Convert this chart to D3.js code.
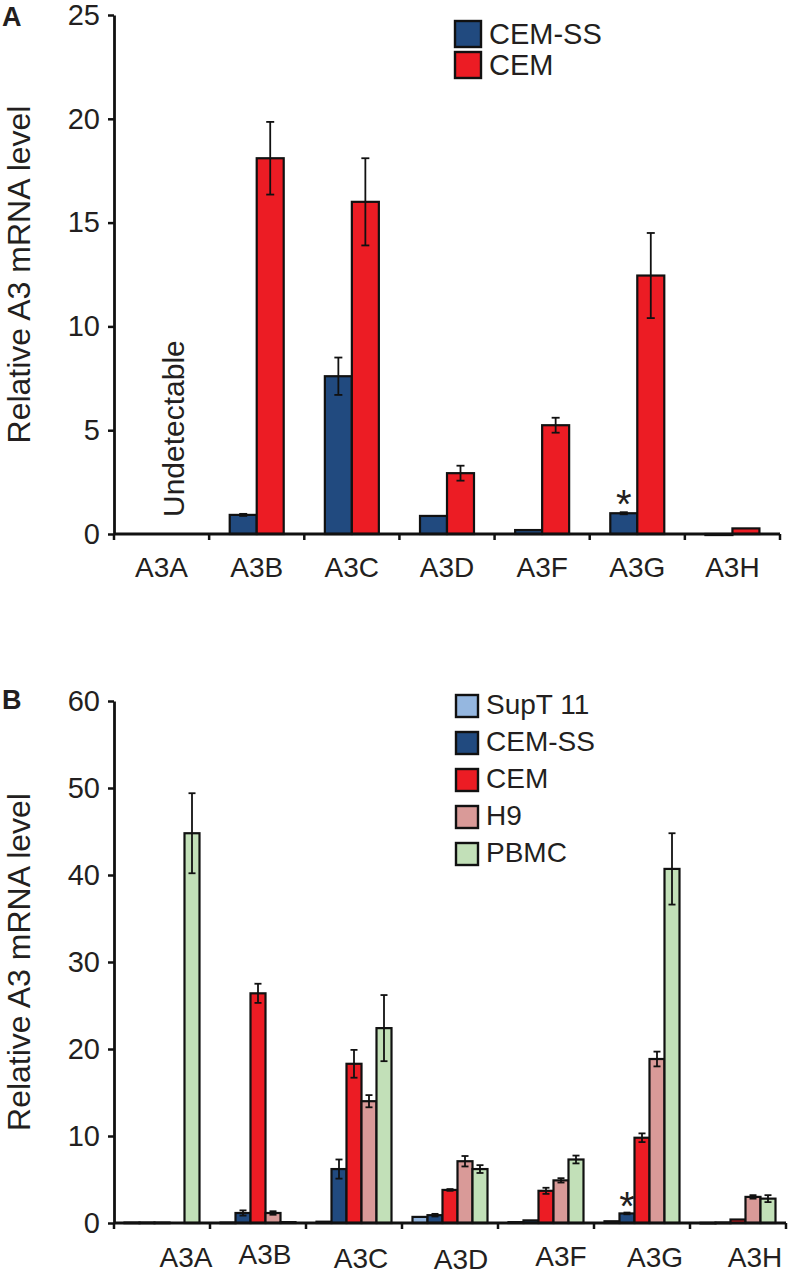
<!DOCTYPE html>
<html><head><meta charset="utf-8">
<script src="https://cdn.jsdelivr.net/npm/d3@7"></script>
<style>
body{margin:0;background:#fff;}
text{font-family:"Liberation Sans",Arial,Helvetica,sans-serif;fill:#231f20;}
</style></head>
<body>
<svg id="chart" width="788" height="1274"></svg>
<script>
// ---------- data ----------
const categories = ["A3A","A3B","A3C","A3D","A3F","A3G","A3H"];

const seriesA = ["CEM-SS","CEM"];
const cemssA    = [null, 0.92, 7.6, 0.87, 0.19, 1.0, -0.05];
const cemssAErr = [0,    0.05, 0.9, 0,    0,    0.05, 0];
const cemA      = [null, 18.1, 16.0, 2.93, 5.24, 12.45, 0.27];
const cemAErr   = [0,    1.75, 2.1, 0.36, 0.36, 2.05, 0];
const ticksA = [0, 5, 10, 15, 20, 25];

const seriesB = ["SupT 11","CEM-SS","CEM","H9","PBMC"];
const supt11B    = [0.05, 0.05, 0.15, 0.7, 0.1, 0.2, 0.02];
const supt11BErr = [0, 0, 0, 0, 0, 0, 0];
const cemssB     = [0.05, 1.15, 6.2, 0.9, 0.3, 1.1, 0.05];
const cemssBErr  = [0, 0.3, 1.1, 0.15, 0, 0.1, 0];
const cemB       = [0.05, 26.4, 18.3, 3.8, 3.7, 9.8, 0.4];
const cemBErr    = [0, 1.1, 1.6, 0.1, 0.35, 0.5, 0];
const h9B        = [null, 1.15, 14.0, 7.1, 4.9, 18.85, 3.0];
const h9BErr     = [0, 0.2, 0.7, 0.6, 0.25, 0.85, 0.2];
const pbmcB      = [44.8, 0.1, 22.4, 6.2, 7.3, 40.7, 2.8];
const pbmcBErr   = [4.6, 0, 3.8, 0.45, 0.45, 4.1, 0.4];
const ticksB = [0, 10, 20, 30, 40, 50, 60];

const yLabel = "Relative A3 mRNA level";

// ---------- styles / layout ----------
const colors = {"SupT 11":"#95b7e0","CEM-SS":"#214a7f","CEM":"#ec1c24","H9":"#d99a98","PBMC":"#c2e0b8"};
const labelNudgeB = [[24,0],[7,-3],[7,1],[11,2],[15,-1],[13,0],[17,0]];

const svg = d3.select("#chart");

function panel(opts){
  const g = svg.append("g");
  const y = d3.scaleLinear().domain(opts.yDomain).range([opts.y0, opts.yTop]);
  const x = d3.scaleBand().domain(categories).range([opts.xL, opts.xR]).padding(0);
  const x1 = d3.scaleBand().domain(opts.series).range([0, opts.groupW]).padding(0);
  const off = (x.bandwidth() - opts.groupW)/2;

  // bars
  opts.series.forEach((s, si) => {
    const vals = opts.values[si];
    categories.forEach((c, ci) => {
      const v = vals[ci];
      if (v === null) return;
      const bx = x(c) + off + x1(s);
      const top = Math.min(y(v), y(0)), h = Math.abs(y(v) - y(0));
      g.append("rect").attr("x", bx).attr("y", top).attr("width", x1.bandwidth())
        .attr("height", Math.max(h, 0.6)).attr("fill", colors[s])
        .attr("stroke", "#111").attr("stroke-width", 2.2);
    });
  });
  // error bars
  opts.series.forEach((s, si) => {
    const vals = opts.values[si], errs = opts.errors[si];
    categories.forEach((c, ci) => {
      const v = vals[ci], e = errs[ci];
      if (v === null || !e) return;
      const cx = x(c) + off + x1(s) + x1.bandwidth()/2;
      const eg = g.append("g").attr("stroke", "#111").attr("stroke-width", 1.8);
      eg.append("line").attr("x1", cx).attr("x2", cx).attr("y1", y(v+e)).attr("y2", y(v-e));
      [v+e, v-e].forEach(t => eg.append("line").attr("x1", cx-opts.cap).attr("x2", cx+opts.cap)
        .attr("y1", y(t)).attr("y2", y(t)));
    });
  });

  // y axis
  const ya = d3.axisLeft(y).tickValues(opts.ticks).tickSize(6).tickSizeOuter(0).tickPadding(8);
  const yg = g.append("g").attr("transform", `translate(${opts.xL},0)`).call(ya);
  yg.select(".domain").attr("stroke", "#111").attr("stroke-width", 2.8);
  yg.selectAll(".tick line").attr("stroke", "#111").attr("stroke-width", 2.5);
  yg.selectAll(".tick text").attr("font-size", 29).attr("fill", "#231f20")
    .style("font-family", '"Liberation Sans",Arial,sans-serif');

  // x axis
  g.append("line").attr("x1", opts.xL).attr("x2", opts.xR).attr("y1", y(0)).attr("y2", y(0))
    .attr("stroke", "#111").attr("stroke-width", 2.8);
  const bounds = categories.map(c => x(c)).concat([opts.xR]);
  bounds.forEach(b => g.append("line").attr("x1", b).attr("x2", b).attr("y1", y(0)).attr("y2", y(0)+6)
    .attr("stroke", "#111").attr("stroke-width", 2.5));
  categories.forEach((c, ci) => {
    const n = opts.nudge ? opts.nudge[ci] : [0,0];
    g.append("text").attr("x", x(c) + x.bandwidth()/2 + n[0]).attr("y", opts.labelY + n[1])
      .attr("text-anchor", "middle").attr("font-size", 28).text(c);
  });

  // y label
  g.append("text").attr("transform", `translate(29.5,${(opts.y0+opts.yTop)/2}) rotate(-90)`)
    .attr("text-anchor", "middle").attr("font-size", 32).text(yLabel);

  // panel letter
  g.append("text").attr("x", 2).attr("y", opts.letterY).attr("font-size", 27)
    .attr("font-weight", "bold").text(opts.letter);

  // legend
  opts.series.forEach((s, i) => {
    const ly = opts.legY + i*opts.legStep;
    g.append("rect").attr("x", opts.legX).attr("y", ly).attr("width", opts.legSq).attr("height", opts.legSq)
      .attr("fill", colors[s]).attr("stroke", "#111").attr("stroke-width", 2.4);
    g.append("text").attr("x", opts.legX + opts.legSq + 8).attr("y", ly + opts.legSq - 3)
      .attr("font-size", opts.legFs).text(s);
  });

  // asterisk over CEM-SS A3G
  const si = opts.series.indexOf("CEM-SS");
  const ax = x("A3G") + off + x1("CEM-SS") + x1.bandwidth()/2;
  const av = opts.values[si][categories.indexOf("A3G")];
  g.append("text").attr("x", ax).attr("y", y(av) + opts.starDy).attr("text-anchor", "middle")
    .attr("font-size", 40).text("*");

  return {x, y};
}

const pA = panel({
  series: seriesA, values: [cemssA, cemA], errors: [cemssAErr, cemAErr],
  yDomain: [0, 25], ticks: ticksA, y0: 534, yTop: 15, xL: 114, xR: 780, groupW: 54, cap: 4,
  labelY: 577, letter: "A", letterY: 26,
  legX: 455, legY: 21, legStep: 31, legSq: 26, legFs: 29, starDy: 5
});
// Undetectable annotation
svg.append("text").attr("transform", `translate(184,${pA.y(0) - 17}) rotate(-90)`)
  .attr("font-size", 30).text("Undetectable");

panel({
  series: seriesB, values: [supt11B, cemssB, cemB, h9B, pbmcB],
  errors: [supt11BErr, cemssBErr, cemBErr, h9BErr, pbmcBErr],
  yDomain: [0, 60], ticks: ticksB, y0: 1223, yTop: 701, xL: 114, xR: 786, groupW: 75, cap: 3.5,
  labelY: 1267, nudge: labelNudgeB, letter: "B", letterY: 709,
  legX: 456, legY: 695, legStep: 37, legSq: 22, legFs: 28, starDy: 7
});
</script>
</body></html>
